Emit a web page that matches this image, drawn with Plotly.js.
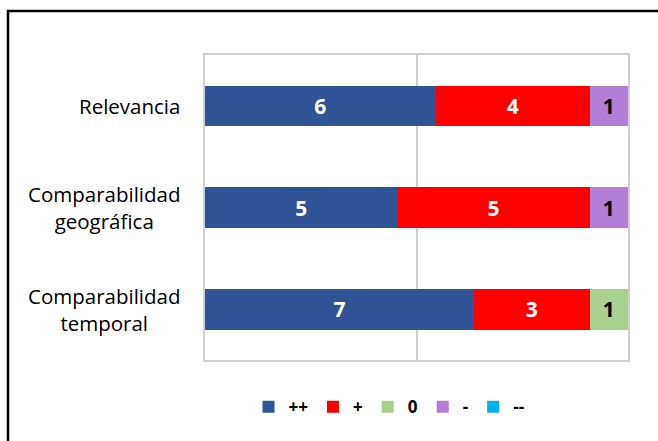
<!DOCTYPE html>
<html>
<head>
<meta charset="utf-8">
<script src="https://cdn.plot.ly/plotly-3.0.1.min.js"></script>
<style>
html,body{margin:0;padding:0;background:#fff;}
#chart{width:658px;height:441px;}
</style>
</head>
<body>
<div id="chart"></div>
<script>
const categories = ["Relevancia", "Comparabilidad<br>geográfica", "Comparabilidad<br>temporal"];
const seriesNames = ["++", "+", "0", "-", "--"];
const valsPlusPlus = [6, 5, 7];
const valsPlus = [4, 5, 3];
const valsZero = [null, null, 1];
const valsMinus = [1, 1, null];
const valsMinusMinus = [null, null, null];
const seriesColors = ["#2F5597", "#FF0000", "#A9D18E", "#B07FD8", "#00B0F0"];
const labelColors = ["#FFFFFF", "#FFFFFF", "#000000", "#000000", "#000000"];

const allVals = [valsPlusPlus, valsPlus, valsZero, valsMinus, valsMinusMinus];
const FONT = "Open Sans, Lato, sans-serif";

const traces = allVals.map((v, i) => ({
  type: "bar",
  orientation: "h",
  name: seriesNames[i],
  y: categories,
  x: v,
  marker: {color: seriesColors[i], line: {width: 0}},
  texttemplate: "%{x}",
  textposition: "inside",
  insidetextanchor: "middle",
  textangle: 0,
  constraintext: "none",
  textfont: {family: FONT, size: 21, color: labelColors[i], weight: "bold"},
  hoverinfo: "skip"
}));

const catAnnotations = categories.map(c => ({
  xref: "paper", yref: "y",
  x: (182 - 205) / 423, y: c,
  xanchor: "right", yanchor: "middle",
  align: "center",
  text: c,
  showarrow: false,
  font: {family: FONT, size: 20.5, color: "#000"}
}));

const layout = {
  width: 658, height: 441,
  margin: {l: 205, r: 30, t: 55, b: 81},
  paper_bgcolor: "#fff",
  plot_bgcolor: "#fff",
  barmode: "stack",
  bargap: 0.6,
  showlegend: true,
  legend: {
    orientation: "h",
    x: 0.435, xanchor: "center",
    y: -0.155, yanchor: "middle",
    font: {family: FONT, size: 17, color: "#000", weight: "bold"},
    itemclick: false, traceorder: "normal"
  },
  xaxis: {
    range: [0, 11],
    tick0: 0, dtick: 5.5,
    showticklabels: false,
    ticks: "",
    showgrid: true,
    gridcolor: "#D0D0D0",
    gridwidth: 2,
    zeroline: false,
    showline: true, mirror: true,
    linecolor: "#D0D0D0", linewidth: 2,
    fixedrange: true
  },
  yaxis: {
    autorange: "reversed",
    ticks: "",
    showticklabels: false,
    showline: true, mirror: true,
    linecolor: "#D0D0D0", linewidth: 2,
    showgrid: false,
    fixedrange: true
  },
  annotations: catAnnotations,
  shapes: [{
    type: "rect", xref: "paper", yref: "paper",
    x0: (8 - 205) / 423, x1: (700 - 205) / 423,
    y0: (360 - 480) / 305, y1: (360 - 11) / 305,
    line: {color: "#000", width: 2.5},
    fillcolor: "rgba(0,0,0,0)",
    layer: "above"
  }]
};

Plotly.newPlot("chart", traces, layout, {displayModeBar: false, staticPlot: true});
</script>
</body>
</html>
